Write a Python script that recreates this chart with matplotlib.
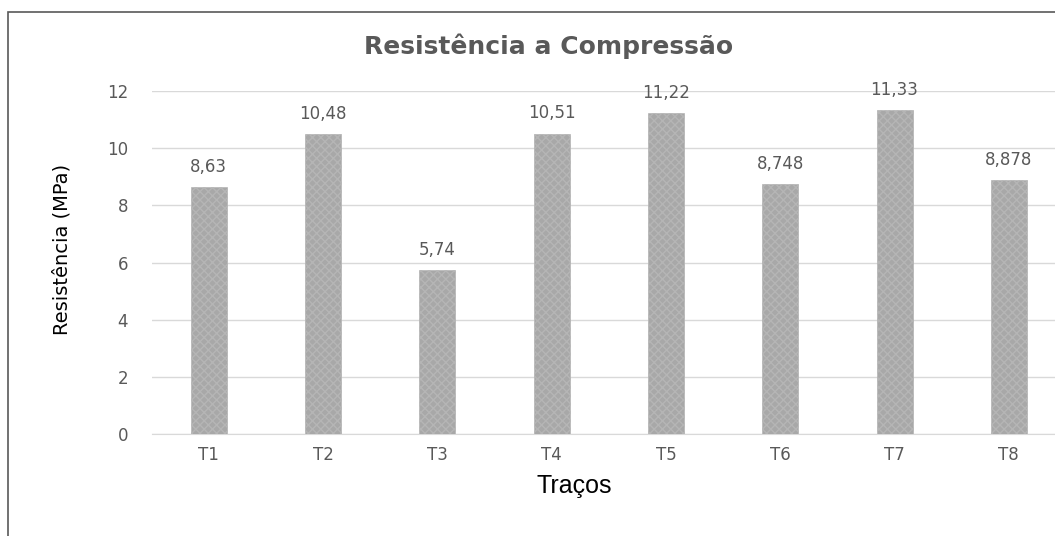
import matplotlib.pyplot as plt
from matplotlib.patches import Rectangle

categories = ['T1', 'T2', 'T3', 'T4', 'T5', 'T6', 'T7', 'T8']
values = [8.63, 10.48, 5.74, 10.51, 11.22, 8.748, 11.33, 8.878]
value_labels = ['8,63', '10,48', '5,74', '10,51', '11,22', '8,748', '11,33', '8,878']
yticks = [0, 2, 4, 6, 8, 10, 12]

W, H = 1055, 536
plt.rcParams['hatch.color'] = '#9c9c9c'
fig = plt.figure(figsize=(W / 100, H / 100), dpi=100)
fig.patch.set_facecolor('white')

# chart border (cropped at right/bottom in the reference)
fig.patches.append(Rectangle((8 / W, -0.1), 1.2, 1 - 12 / H + 0.1, transform=fig.transFigure,
                             fill=False, edgecolor='#595959', linewidth=1.2, zorder=0))

ax = fig.add_axes([151.5 / W, 1 - 434 / H, (1066 - 151.5) / W, (434 - 91) / H])
x = list(range(len(categories)))
ax.bar(x, values, width=0.315, color='#a8a8a8', edgecolor='#b5b5b5', linewidth=0.5,
       hatch='xxxx', zorder=3)

for xi, v, lab in zip(x, values, value_labels):
    ax.annotate(lab, (xi, v), xytext=(0, 8), textcoords='offset points',
                ha='center', va='bottom', fontsize=12, color='#595959')

ax.set_xlim(-0.5, len(categories) - 0.5)
ax.set_ylim(0, 12)
ax.set_yticks(yticks)
ax.set_yticklabels([str(t) for t in yticks])
ax.set_xticks(x)
ax.set_xticklabels(categories)
ax.tick_params(length=0, labelsize=12, labelcolor='#595959')
ax.tick_params(axis='y', pad=17)
ax.tick_params(axis='x', pad=9)
ax.yaxis.grid(True, color='#d9d9d9', linewidth=1, zorder=0)
ax.set_axisbelow(True)
for s in ['top', 'right', 'left']:
    ax.spines[s].set_visible(False)
ax.spines['bottom'].set_color('#d9d9d9')

fig.text(549 / W, 1 - 46 / H, 'Resistência a Compressão', ha='center', va='center',
         fontsize=18, fontweight='bold', color='#595959')
fig.text(62 / W, 1 - 249 / H, 'Resistência (MPa)', ha='center', va='center', rotation=90,
         fontsize=14, color='black', family=['Liberation Sans Narrow', 'DejaVu Sans'])
fig.text(574 / W, 1 - 486 / H, 'Traços', ha='center', va='center',
         fontsize=18, color='black', family=['Liberation Sans', 'DejaVu Sans'])

fig.savefig('out.png', dpi=100)
